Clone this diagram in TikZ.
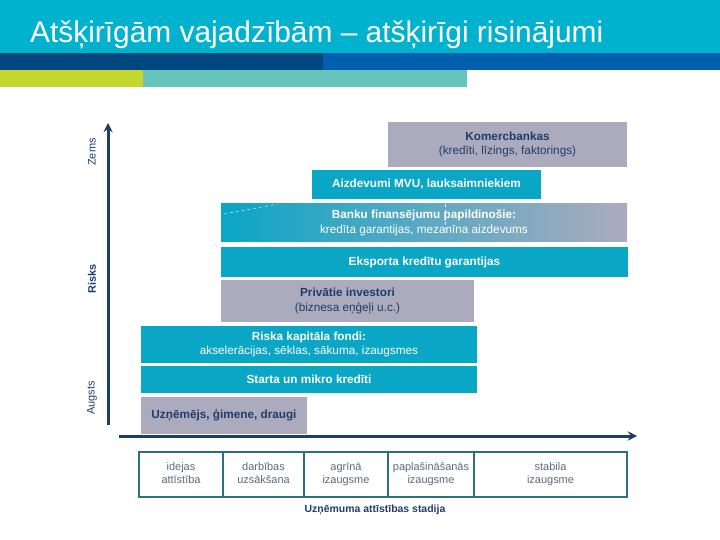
\documentclass[tikz,border=0pt]{standalone}
\usepackage{fontspec}
\setmainfont{Liberation Sans}
\usepackage{tikz}
\usetikzlibrary{arrows, positioning}

\definecolor{titlecyan}{HTML}{00B2CE}
\definecolor{bandnavy}{HTML}{00467F}
\definecolor{bandblue}{HTML}{005FAE}
\definecolor{bandgreen}{HTML}{C3D82F}
\definecolor{bandteal}{HTML}{67C4BC}
\definecolor{boxcyan}{HTML}{0AA6C6}
\definecolor{boxgrey}{HTML}{ACABBE}
\definecolor{navytext}{HTML}{1F3D6B}
\definecolor{axisnavy}{HTML}{1F3D66}
\definecolor{tableline}{HTML}{2E6E85}
\definecolor{tabletext}{HTML}{5B6B7B}

\newcommand{\twolines}[2]{\strut#1\\\strut#2}

\tikzstyle{cyanbox} = [rectangle, fill=boxcyan, text=white, align=center, inner sep=0pt, font=\fontsize{11.8}{14.5}\selectfont]
\tikzstyle{greybox} = [rectangle, fill=boxgrey, text=navytext, align=center, inner sep=0pt, font=\fontsize{11.8}{14.5}\selectfont]
\tikzstyle{stagecell} = [rectangle, draw=tableline, line width=1.2bp, text=tabletext, align=center, inner sep=0pt, outer sep=0pt, minimum height=45bp, font=\fontsize{11}{13.5}\selectfont]
\tikzstyle{axislabel} = [rotate=90, text=navytext, font=\fontsize{11}{13}\selectfont]
\tikzstyle{axis} = [line width=3bp, draw=axisnavy, ->, >=stealth]

\begin{document}
\begin{tikzpicture}[x=1bp, y=-1bp]
\useasboundingbox (0,0) rectangle (720,540);

% header
\fill[titlecyan] (0,0) rectangle (720,53);
\fill[bandnavy] (0,53) rectangle (323,70);
\fill[bandblue] (323,53) rectangle (720,70);
\fill[bandgreen] (0,70) rectangle (143,87);
\fill[bandteal] (143,70) rectangle (467,87);
\node (title) [anchor=base west, text=white, inner sep=0pt, font=\fontsize{30}{34}\selectfont] at (30,43) {Atšķirīgām vajadzībām – atšķirīgi risinājumi};

% axes
\coordinate (ybottom) at (108,425);
\coordinate (ytop) at (108,123);
\coordinate (xleft) at (119,436);
\coordinate (xright) at (637,436);
\draw [axis] (ybottom) -- (ytop);
\draw [axis] (xleft) -- (xright);

\node (low) [axislabel] at (92,152) {Zems};
\node (risk) [axislabel, font=\fontsize{11}{13}\selectfont\bfseries] at (92,279) {Risks};
\node (high) [axislabel] at (92,398) {Augsts};

% financing sources
\node (komerc) [greybox, minimum width=239bp, minimum height=45bp] at (507.5,144.5) {\textbf{Komercbankas}\\(kredīti, līzings, faktorings)};

\node (mvu) [cyanbox, minimum width=229bp, minimum height=29bp] at (426.5,184.5) {\textbf{Aizdevumi MVU, lauksaimniekiem}};

\node (banku) [cyanbox, left color=boxcyan, right color=boxgrey, minimum width=406bp, minimum height=38bp] at (424,223) {\textbf{Banku finansējumu papildinošie:}\\kredīta garantijas, mezanīna aizdevums};
\draw [white, dashed, thin] (224,214) -- (278,204);
\draw [white, dashed, thin] (445,204) -- (445,228);

\node (eksp) [cyanbox, minimum width=407bp, minimum height=30bp] at (424.5,262) {\textbf{Eksporta kredītu garantijas}};

\node (priv) [greybox, minimum width=253bp, minimum height=42bp] at (347.5,301) {\textbf{Privātie investori}\\(biznesa eņģeļi u.c.)};

\node (vc) [cyanbox, minimum width=336bp, minimum height=37bp] at (309,344.5) {\textbf{Riska kapitāla fondi:}\\akselerācijas, sēklas, sākuma, izaugsmes};

\node (mikro) [cyanbox, minimum width=336bp, minimum height=27bp] at (309,379.5) {\textbf{Starta un mikro kredīti}};

\node (fff) [greybox, minimum width=166bp, minimum height=37bp] at (224,415.5) {\textbf{Uzņēmējs, ģimene, draugi}};

% stages
\node (s1) [stagecell, minimum width=84bp] at (181,474.5) {\twolines{idejas}{attīstība}};
\node (s2) [stagecell, minimum width=81bp, right=0pt of s1] {\twolines{darbības}{uzsākšana}};
\node (s3) [stagecell, minimum width=84bp, right=0pt of s2] {\twolines{agrīnā}{izaugsme}};
\node (s4) [stagecell, minimum width=86bp, right=0pt of s3] {\twolines{paplašināšanās}{izaugsme}};
\node (s5) [stagecell, minimum width=153bp, right=0pt of s4] {\twolines{stabila}{izaugsme}};

\node (stage) [text=navytext, font=\fontsize{10.5}{12}\selectfont\bfseries] at (375,510) {Uzņēmuma attīstības stadija};

\end{tikzpicture}
\end{document}
